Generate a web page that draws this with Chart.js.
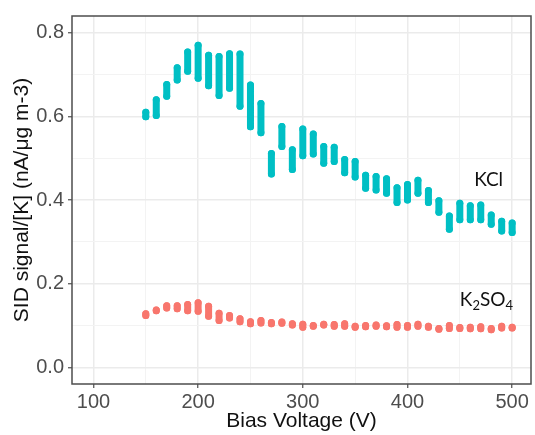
<!DOCTYPE html>
<html>
<head>
<meta charset="utf-8">
<script src="https://cdn.jsdelivr.net/npm/chart.js@4"></script>
<style>
  html, body { margin: 0; padding: 0; background: #fff; }
  canvas { display: block; }
</style>
</head>
<body>
<canvas id="grafikSID" width="535" height="435"></canvas>
<script>
// Bias voltage (V) for each measurement column
const voltages = [150, 160, 170, 180, 190, 200, 210, 220, 230, 240, 250, 260,
                  270, 280, 290, 300, 310, 320, 330, 340, 350, 360, 370, 380,
                  390, 400, 410, 420, 430, 440, 450, 460, 470, 480, 490, 500];

// KCl: lowest / highest point in each column (nA/ug m-3)
const kclLow  = [0.599, 0.602, 0.648, 0.687, 0.708, 0.691, 0.673, 0.650, 0.667, 0.624, 0.575, 0.561,
                 0.462, 0.528, 0.473, 0.506, 0.510, 0.488, 0.492, 0.465, 0.455, 0.428, 0.424, 0.416,
                 0.394, 0.400, 0.416, 0.394, 0.371, 0.330, 0.353, 0.353, 0.353, 0.342, 0.326, 0.322];
const kclHigh = [0.610, 0.640, 0.676, 0.716, 0.754, 0.770, 0.746, 0.743, 0.750, 0.749, 0.675, 0.631,
                 0.511, 0.576, 0.520, 0.570, 0.558, 0.528, 0.526, 0.497, 0.492, 0.459, 0.456, 0.451,
                 0.429, 0.437, 0.447, 0.423, 0.398, 0.362, 0.392, 0.386, 0.388, 0.364, 0.349, 0.345];

// K2SO4: lowest / highest point in each column
const k2so4Low  = [0.124, 0.135, 0.142, 0.140, 0.135, 0.134, 0.122, 0.112, 0.118, 0.109, 0.104, 0.106,
                   0.104, 0.105, 0.101, 0.096, 0.098, 0.101, 0.098, 0.098, 0.096, 0.097, 0.098, 0.097,
                   0.096, 0.096, 0.098, 0.096, 0.091, 0.093, 0.093, 0.092, 0.092, 0.090, 0.094, 0.094];
const k2so4High = [0.128, 0.137, 0.147, 0.147, 0.150, 0.154, 0.146, 0.129, 0.124, 0.116, 0.109, 0.112,
                   0.107, 0.108, 0.104, 0.103, 0.100, 0.103, 0.102, 0.104, 0.098, 0.100, 0.101, 0.099,
                   0.102, 0.100, 0.103, 0.098, 0.093, 0.100, 0.095, 0.096, 0.097, 0.093, 0.098, 0.096];

// Tick positions (major = labelled, minor = grid only)
const xMajor = [100, 200, 300, 400, 500];
const xMinor = [150, 250, 350, 450];
const yMajor = [0.0, 0.2, 0.4, 0.6, 0.8];
const yMinor = [0.1, 0.3, 0.5, 0.7];

const KCL_COLOR = '#00BFC4';
const K2SO4_COLOR = '#F8766D';

// satu kolom = garis vertikal dari nilai terendah ke tertinggi, diputus dengan null
function columnPoints(low, high) {
    const pts = [];
    voltages.forEach((v, i) => {
        pts.push({ x: v, y: low[i] }, { x: v, y: high[i] }, { x: v, y: null });
    });
    return pts;
}

function seriesStyle(color) {
    return {
        showLine: true,
        spanGaps: false,
        borderColor: color,
        backgroundColor: color,
        borderWidth: 7,
        borderCapStyle: 'round',
        borderJoinStyle: 'round',
        pointRadius: 3.5,
        pointBorderWidth: 0,
        pointBackgroundColor: color,
        tension: 0
    };
}

function setTicks(major, minor) {
    return scale => {
        scale.ticks = major.concat(minor).sort((a, b) => a - b).map(v => ({ value: v }));
    };
}

const isMajor = (list, v) => list.some(m => Math.abs(m - v) < 1e-9);

// border panel + teks anotasi
const panelPlugin = {
    id: 'panel',
    afterDatasetsDraw(chart) {
        const { ctx, chartArea: a, scales } = chart;
        ctx.save();

        // KCl label
        ctx.fillStyle = '#111';
        ctx.font = "19px Lato, 'Open Sans', sans-serif";
        ctx.textAlign = 'center';
        ctx.textBaseline = 'alphabetic';
        ctx.fillText('KCl', scales.x.getPixelForValue(477.5), scales.y.getPixelForValue(0.434));

        // K2SO4 label with subscripts
        ctx.textAlign = 'left';
        let x = scales.x.getPixelForValue(450);
        const base = scales.y.getPixelForValue(0.147);
        const parts = [['K', 19, 0], ['2', 13, 4], ['SO', 19, 0], ['4', 13, 4]];
        parts.forEach(([t, size, dy]) => {
            ctx.font = size + "px Lato, 'Open Sans', sans-serif";
            ctx.fillText(t, x, base + dy);
            x += ctx.measureText(t).width;
        });

        // panel border
        ctx.strokeStyle = '#4d4d4d';
        ctx.lineWidth = 1.5;
        ctx.strokeRect(a.left, a.top, a.right - a.left, a.bottom - a.top);
        ctx.restore();
    }
};

const tickFont = { family: "'Liberation Sans', Arial, sans-serif", size: 20 };
const titleFont = { family: "'Liberation Sans', Arial, sans-serif", size: 21 };

new Chart(document.getElementById('grafikSID'), {
    type: 'scatter',
    data: {
        datasets: [
            Object.assign({ label: 'KCl', data: columnPoints(kclLow, kclHigh) }, seriesStyle(KCL_COLOR)),
            Object.assign({ label: 'K2SO4', data: columnPoints(k2so4Low, k2so4High) }, seriesStyle(K2SO4_COLOR))
        ]
    },
    options: {
        responsive: false,
        animation: false,
        layout: { padding: { top: 9, right: 2, left: 0, bottom: 0 } },
        plugins: {
            legend: { display: false },
            tooltip: { enabled: false }
        },
        scales: {
            x: {
                type: 'linear',
                min: 79.5,
                max: 518,
                afterBuildTicks: setTicks(xMajor, xMinor),
                afterFit: scale => { scale.height = 51; },
                border: { display: false },
                grid: {
                    color: ctx => isMajor(xMajor, ctx.tick.value) ? '#ebebeb' : '#f3f3f3',
                    lineWidth: ctx => isMajor(xMajor, ctx.tick.value) ? 1.5 : 1,
                    tickColor: ctx => isMajor(xMajor, ctx.tick.value) ? '#4d4d4d' : 'rgba(0,0,0,0)',
                    tickWidth: 1.2,
                    tickLength: 4
                },
                ticks: {
                    autoSkip: false,
                    maxRotation: 0,
                    padding: 2,
                    color: '#4d4d4d',
                    font: tickFont,
                    callback: v => isMajor(xMajor, v) ? String(v) : ''
                },
                title: {
                    display: true,
                    text: 'Bias Voltage (V)',
                    color: '#111',
                    font: titleFont,
                    padding: { top: 0, bottom: 1 }
                }
            },
            y: {
                type: 'linear',
                min: -0.04,
                max: 0.84,
                afterBuildTicks: setTicks(yMajor, yMinor),
                afterFit: scale => { scale.width = 72; },
                border: { display: false },
                grid: {
                    color: ctx => isMajor(yMajor, ctx.tick.value) ? '#ebebeb' : '#f3f3f3',
                    lineWidth: ctx => isMajor(yMajor, ctx.tick.value) ? 1.5 : 1,
                    tickColor: ctx => isMajor(yMajor, ctx.tick.value) ? '#4d4d4d' : 'rgba(0,0,0,0)',
                    tickWidth: 1.2,
                    tickLength: 4
                },
                ticks: {
                    autoSkip: false,
                    padding: 4,
                    color: '#4d4d4d',
                    font: tickFont,
                    callback: v => isMajor(yMajor, v) ? v.toFixed(1) : ''
                },
                title: {
                    display: true,
                    text: 'SID signal/[K] (nA/μg m-3)',
                    color: '#111',
                    font: titleFont,
                    padding: { top: 10, bottom: 0 }
                }
            }
        }
    },
    plugins: [panelPlugin]
});
</script>
</body>
</html>
